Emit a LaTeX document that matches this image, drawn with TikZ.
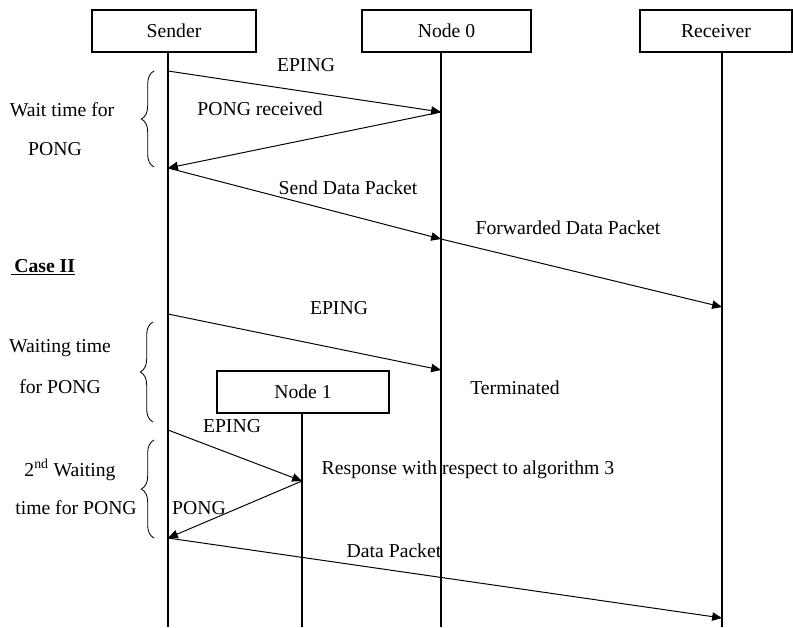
\documentclass[tikz,border=0pt]{standalone}
\usepackage{fontspec}
\setmainfont{Liberation Serif}
\usetikzlibrary{arrows.meta, positioning, decorations.pathreplacing}

\begin{document}
\begin{tikzpicture}[
    x=0.025cm, y=-0.025cm,
    font=\fontsize{14}{16}\selectfont,
    box/.style={draw, line width=0.8pt, minimum height=1.05cm, inner sep=0pt, align=center},
    arrow/.style={-{Triangle[length=7pt, width=6pt]}, line width=0.7pt},
    lifeline/.style={line width=0.8pt},
    waitbrace/.style={decorate, decoration={brace, amplitude=9pt}, line width=0.6pt},
    lbl/.style={inner sep=0pt}
]
    \useasboundingbox (0,0) rectangle (793,627);

    % Participants
    \node[box, minimum width=4.1cm] (sender) at (174,31) {Sender};
    \node[box, minimum width=4.225cm] (node0) at (446.5,31) {Node 0};
    \node[box, minimum width=3.8cm] (receiver) at (716,31) {Receiver};
    \node[box, minimum width=4.3cm] (node1) at (303,392) {Node 1};

    % Lifelines
    \coordinate (senderEnd) at (168,627);
    \coordinate (node0End) at (441,627);
    \coordinate (receiverEnd) at (722,627);
    \coordinate (node1End) at (302,627);
    \draw[lifeline] (sender.south -| senderEnd) -- (senderEnd);
    \draw[lifeline] (node0.south -| node0End) -- (node0End);
    \draw[lifeline] (receiver.south -| receiverEnd) -- (receiverEnd);
    \draw[lifeline] (node1.south -| node1End) -- (node1End);

    % Points on the lifelines
    \coordinate (s1) at (168,71);
    \coordinate (n1) at (441,112);
    \coordinate (s2) at (168,168);
    \coordinate (n2) at (441,239);
    \coordinate (r1) at (722,307);
    \coordinate (s3) at (168,314);
    \coordinate (n3) at (441,370);
    \coordinate (s4) at (168,430);
    \coordinate (m1) at (302,481);
    \coordinate (s5) at (168,538);
    \coordinate (r2) at (722,618);

    % Case I messages
    \draw[arrow] (s1) -- (n1);
    \draw[arrow] (n1) -- (s2);
    \draw[arrow] (s2) -- (n2);
    \draw[arrow] (n2) -- (r1);

    % Case II messages
    \draw[arrow] (s3) -- (n3);
    \draw[arrow] (s4) -- (m1);
    \draw[arrow] (m1) -- (s5);
    \draw[arrow] (s5) -- (r2);

    % Message labels
    \node[lbl] (epingA) at (306,65) {EPING};
    \node[lbl] (pongRcvd) at (260,109) {PONG received};
    \node[lbl] (sendData) at (348,188) {Send Data Packet};
    \node[lbl] (fwdData) at (568,228) {Forwarded Data Packet};
    \node[lbl] (caseTwo) at (43,267) {\underline{\textbf{\,Case II}}};
    \node[lbl] (epingB) at (339,308) {EPING};
    \node[lbl] (terminated) at (515,388) {Terminated};
    \node[lbl] (epingC) at (232,426) {EPING};
    \node[lbl] (response) at (468,470) {Response with respect to algorithm 3};
    \node[lbl] (pongB) at (199,508) {PONG};
    \node[lbl] (dataPkt) at (394,551) {Data Packet};

    % Waiting periods
    \draw[waitbrace] (154,167) -- (154,71);
    \draw[waitbrace] (153,422) -- (153,322);
    \draw[waitbrace] (154,538) -- (154,440);
    \node[lbl] (waitA) at (62,110) {Wait time for};
    \node[lbl] (waitB) at (55,149) {PONG};
    \node[lbl] (waitingA) at (60,348) {Waiting time};
    \node[lbl] (waitingB) at (60,387) {for PONG};
    \node[lbl] (secondA) at (70,470) {2\textsuperscript{nd} Waiting};
    \node[lbl] (secondB) at (76,508) {time for PONG};
\end{tikzpicture}
\end{document}
